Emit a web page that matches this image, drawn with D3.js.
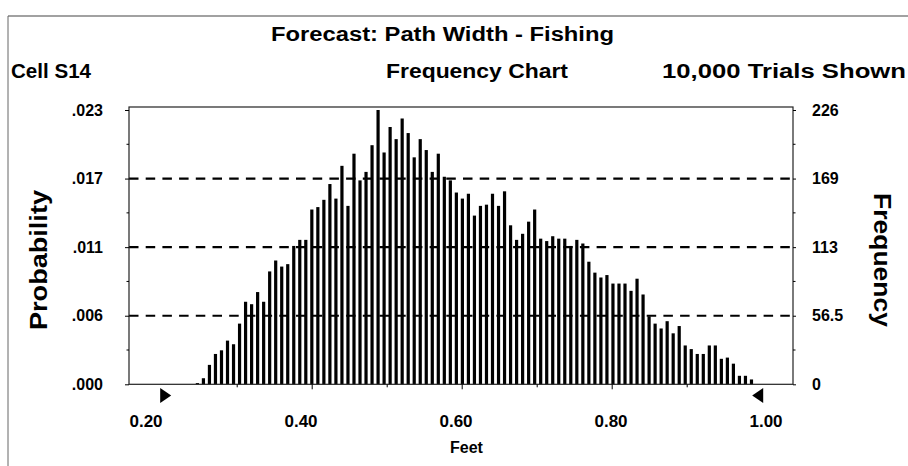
<!DOCTYPE html>
<html>
<head>
<meta charset="utf-8">
<script src="https://cdn.jsdelivr.net/npm/d3@7"></script>
<style>
  html, body { margin: 0; padding: 0; background: #fff; }
  svg { display: block; }
  text { font-family: "Liberation Sans", Arial, sans-serif; font-weight: bold; fill: #000; }
</style>
</head>
<body>
<svg id="chart" width="908" height="466"></svg>
<script>
// ---------------- data ----------------
const title = "Forecast: Path Width - Fishing";
const cellLabel = "Cell S14";
const chartType = "Frequency Chart";
const trialsLabel = "10,000 Trials Shown";
const xAxisTitle = "Feet";
const leftAxisTitle = "Probability";
const rightAxisTitle = "Frequency";

// frequency counts per bin, bins start near 0.2476 ft, width ~0.00803 ft
const binStart = 0.2476;
const binWidth = 0.00803;
const frequencies = [
  1, 5, 16, 25, 28, 36, 33, 50, 68, 66, 76, 68, 93, 102, 97, 99, 114, 119, 119, 144, 146, 152, 165, 153, 180, 147,
  190, 168, 175, 197, 226, 191, 212, 202, 219, 207, 187, 202, 193, 175, 190, 171, 168, 158, 153, 157, 139, 147, 148, 157, 147,
  159, 131, 119, 124, 134, 144, 120, 118, 122, 120, 120, 114, 119, 116, 101, 92, 88, 90, 83, 83, 83, 77, 87, 74, 56,
  50, 46, 52, 42, 48, 32, 29, 25, 25, 32, 32, 21, 22, 17, 7, 7, 4
];

const freqTickValues = [0, 56.5, 113, 169.5, 226];
const freqTickLabels = ["0", "56.5", "113", "169", "226"];
const probTickLabels = [".000", ".006", ".011", ".017", ".023"];
const freqMinorTicks = [28.25, 84.75, 141.25, 197.75];
const gridValues = [56.5, 113, 169.5];
const xMajorTicks = [0.4, 0.6, 0.8];
const xMinorTicks = [0.3, 0.5, 0.7, 0.9];
const xLabelValues = [0.2, 0.4, 0.6, 0.8, 1.0];
const xLabels = ["0.20", "0.40", "0.60", "0.80", "1.00"];
const certaintyRange = [0.2, 1.0];
const freqMax = 226;

// ---------------- layout ----------------
const svg = d3.select("#chart");
const frame = { left: 129, right: 793, top: 107, bottom: 384.3 };

const x = d3.scaleLinear().domain([0.2, 1.0]).range([161.7, 761.7]);
const xLab = d3.scaleLinear().domain([0.2, 1.0]).range([146, 766]);
const y = d3.scaleLinear().domain([0, freqMax]).range([frame.bottom, 110]);

// outer border
svg.append("line").attr("x1", 8).attr("x2", 908).attr("y1", 16).attr("y2", 16)
  .attr("stroke", "#444").attr("stroke-width", 1.2);
svg.append("line").attr("x1", 8).attr("x2", 8).attr("y1", 16).attr("y2", 466)
  .attr("stroke", "#666").attr("stroke-width", 1);

// header texts
svg.append("text").attr("x", 271).attr("y", 41).attr("font-size", 20)
  .attr("textLength", 343).attr("lengthAdjust", "spacingAndGlyphs").text(title);
svg.append("text").attr("x", 11).attr("y", 78).attr("font-size", 20)
  .attr("textLength", 80).attr("lengthAdjust", "spacingAndGlyphs").text(cellLabel);
svg.append("text").attr("x", 386).attr("y", 78).attr("font-size", 20)
  .attr("textLength", 182).attr("lengthAdjust", "spacingAndGlyphs").text(chartType);
svg.append("text").attr("x", 906).attr("y", 78).attr("font-size", 20).attr("text-anchor", "end")
  .attr("textLength", 244).attr("lengthAdjust", "spacingAndGlyphs").text(trialsLabel);

// gridlines
svg.append("g").selectAll("line").data(gridValues).join("line")
  .attr("x1", frame.left).attr("x2", frame.right)
  .attr("y1", d => y(d)).attr("y2", d => y(d))
  .attr("stroke", "#000").attr("stroke-width", 2.2).attr("stroke-dasharray", "9.5,7.2");

// bars
svg.append("g").selectAll("rect").data(frequencies).join("rect")
  .attr("x", (d, i) => x(binStart + i * binWidth) - 1.6)
  .attr("width", 3.2)
  .attr("y", d => y(d))
  .attr("height", d => y(0) - y(d))
  .attr("fill", "#000");

// frame
svg.append("rect").attr("x", frame.left).attr("y", frame.top)
  .attr("width", frame.right - frame.left).attr("height", frame.bottom - frame.top)
  .attr("fill", "none").attr("stroke", "#222").attr("stroke-width", 1.2);

// left axis (probability labels)
const leftAxis = d3.axisLeft(y).tickValues(freqTickValues).tickSize(4)
  .tickFormat((d, i) => probTickLabels[i]);
const gl = svg.append("g").attr("transform", `translate(${frame.left},0)`).call(leftAxis);
gl.select(".domain").remove();
gl.selectAll("text").attr("font-size", 16).attr("x", -26).attr("font-family", "Liberation Sans, Arial, sans-serif").attr("font-weight", "bold");
gl.selectAll("line").attr("stroke", "#000");
svg.append("g").selectAll("line").data(freqMinorTicks).join("line")
  .attr("x1", frame.left - 2.5).attr("x2", frame.left).attr("y1", d => y(d)).attr("y2", d => y(d)).attr("stroke", "#000");

// right axis (frequency labels)
const rightAxis = d3.axisRight(y).tickValues(freqTickValues).tickSize(3)
  .tickFormat((d, i) => freqTickLabels[i]);
const gr = svg.append("g").attr("transform", `translate(${frame.right},0)`).call(rightAxis);
gr.select(".domain").remove();
gr.selectAll("text").attr("font-size", 16).attr("x", 19).attr("font-family", "Liberation Sans, Arial, sans-serif").attr("font-weight", "bold");
gr.selectAll("line").attr("stroke", "#000");
svg.append("g").selectAll("line").data(freqMinorTicks).join("line")
  .attr("x1", frame.right).attr("x2", frame.right + 2.5).attr("y1", d => y(d)).attr("y2", d => y(d)).attr("stroke", "#000");

// bottom ticks
const bottomMajor = d3.axisBottom(x).tickValues(xMajorTicks).tickSize(5).tickFormat("");
const gb = svg.append("g").attr("transform", `translate(0,${frame.bottom})`).call(bottomMajor);
gb.select(".domain").remove();
const bottomMinor = d3.axisBottom(x).tickValues(xMinorTicks).tickSize(3).tickFormat("");
const gb2 = svg.append("g").attr("transform", `translate(0,${frame.bottom})`).call(bottomMinor);
gb2.select(".domain").remove();

// bottom labels
svg.append("g").selectAll("text").data(xLabelValues).join("text")
  .attr("x", d => xLab(d)).attr("y", 427).attr("text-anchor", "middle")
  .attr("font-size", 17).text((d, i) => xLabels[i]);

// certainty triangles
const tri = svg.append("g");
tri.append("path")
  .attr("d", `M${x(certaintyRange[0]) - 1.5},388 L${x(certaintyRange[0]) - 1.5},403 L${x(certaintyRange[0]) + 9.5},395.5 Z`)
  .attr("fill", "#000");
tri.append("path")
  .attr("d", `M${x(certaintyRange[1]) + 1.5},388 L${x(certaintyRange[1]) + 1.5},403 L${x(certaintyRange[1]) - 9.5},395.5 Z`)
  .attr("fill", "#000");

// axis titles
svg.append("text").attr("x", 466.5).attr("y", 453).attr("text-anchor", "middle")
  .attr("font-size", 16).text(xAxisTitle);
svg.append("text").attr("transform", "translate(47,260) rotate(-90)").attr("text-anchor", "middle")
  .attr("font-size", 24).attr("textLength", 140).attr("lengthAdjust", "spacingAndGlyphs")
  .attr("font-family", "Liberation Sans Narrow, Liberation Sans, sans-serif").text(leftAxisTitle);
svg.append("text").attr("transform", "translate(874,260) rotate(90)").attr("text-anchor", "middle")
  .attr("font-size", 24).attr("textLength", 134).attr("lengthAdjust", "spacingAndGlyphs")
  .attr("font-family", "Liberation Sans Narrow, Liberation Sans, sans-serif").text(rightAxisTitle);
</script>
</body>
</html>
